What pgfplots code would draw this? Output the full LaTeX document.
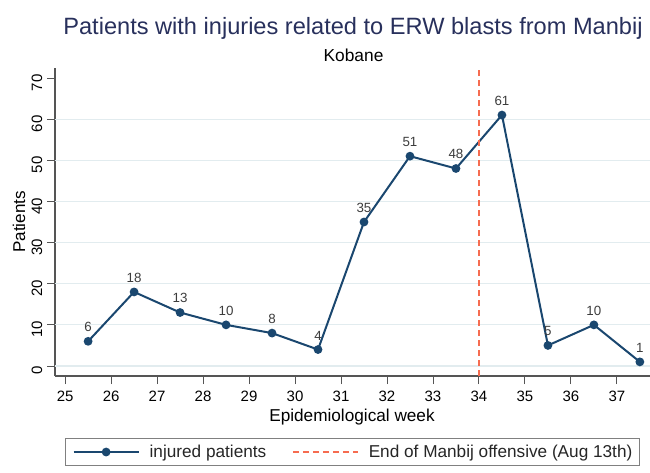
\documentclass[border=0pt]{standalone}
\usepackage{pgfplots}
\pgfplotsset{compat=1.18}
\usepackage{fontspec}
\setmainfont{Liberation Sans}
\definecolor{navy}{RGB}{26,71,111}
\definecolor{dashc}{RGB}{246,108,80}
\definecolor{gridc}{RGB}{226,236,239}
\definecolor{titlec}{RGB}{40,48,92}
\definecolor{axc}{RGB}{85,85,85}
\definecolor{lblc}{RGB}{60,60,60}
\begin{document}
\begin{tikzpicture}
\path[use as bounding box] (-41.25pt,-72pt) rectangle (446.25pt,282pt);
\begin{axis}[at={(0,0)}, anchor=south west, scale only axis,
  width=446.25pt, height=231pt,
  xmin=24.78, xmax=37.72, ymin=-2.43, ymax=72.43,
  axis x line*=bottom, axis y line*=left,
  axis line style={axc, line width=0.9pt, -},
  xtick={25,...,37}, ytick={0,10,...,70},
  tick align=outside, major tick length=6pt,
  tick style={axc, line width=0.7pt},
  /pgf/number format/assume math mode=true,
  yticklabel style={rotate=90, anchor=south, xshift=-3.5pt, font=\fontsize{11.25}{13}\selectfont, text=black},
  xticklabel style={yshift=-1.5pt, font=\fontsize{11.25}{13}\selectfont, text=black},
  extra y ticks={0,10,...,60}, extra y tick labels={},
  extra y tick style={grid=major, major tick length=0pt, major grid style={gridc, line width=0.8pt}},
  legend columns=2,
  legend cell align=left,
  legend image code/.code={\draw[mark repeat=2,mark phase=2,#1] plot coordinates {(0pt,0pt) (24.375pt,0pt) (48.75pt,0pt)};},
  legend style={at={(0.5,-0.2468)}, anchor=center, draw=gray, line width=0.8pt,
    font=\fontsize{12.9}{14}\selectfont, text=black!85, inner xsep=5.25pt, inner ysep=4pt,
    nodes={inner xsep=0pt, inner ysep=1pt},
    /tikz/every odd column/.append style={column sep=7.5pt},
    /tikz/every even column/.append style={column sep=19.5pt}},
]
\addplot[navy, line width=1.5pt, mark=*, mark size=2.5pt, mark options={fill=navy, solid},
  nodes near coords, nodes near coords style={font=\fontsize{10}{11}\selectfont, text=lblc, anchor=south, yshift=3pt}]
  coordinates {(25.5,6) (26.5,18) (27.5,13) (28.5,10) (29.5,8) (30.5,4) (31.5,35) (32.5,51) (33.5,48) (34.5,61) (35.5,5) (36.5,10) (37.5,1)};
\addplot[dashc, line width=1.1pt, dash pattern=on 4.5pt off 3pt] coordinates {(34,-2.43) (34,72.43)};
\legend{injured patients, End of Manbij offensive (Aug 13th)}
\end{axis}
\node[anchor=base, font=\fontsize{17.7}{20}\selectfont, text=titlec] at (223.5pt,255.75pt) {Patients with injuries related to ERW blasts from Manbij};
\node[anchor=base, font=\fontsize{13}{15}\selectfont] at (223.9pt,235.7pt) {Kobane};
\node[anchor=base, font=\fontsize{12.9}{14}\selectfont] at (222.75pt,-34.3pt) {Epidemiological week};
\node[rotate=90, font=\fontsize{12.8}{14}\selectfont] at (-27pt,115.5pt) {Patients};
\end{tikzpicture}
\end{document}
